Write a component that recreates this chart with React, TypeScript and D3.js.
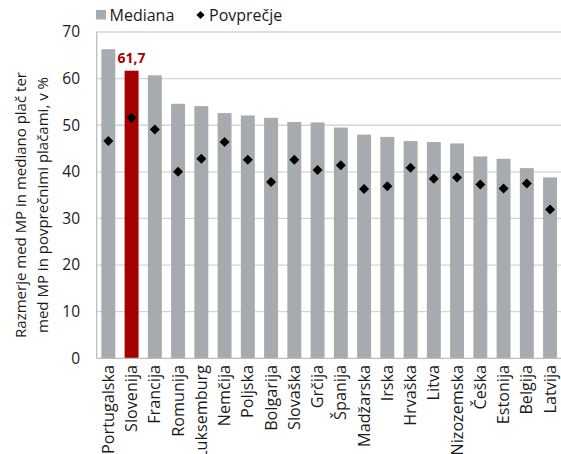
import React from "react";
import * as d3 from "d3";

const categories = ["Portugalska","Slovenija","Francija","Romunija","Luksemburg","Nemčija","Poljska","Bolgarija","Slovaška","Grčija","Španija","Madžarska","Irska","Hrvaška","Litva","Nizozemska","Češka","Estonija","Belgija","Latvija"];
const mediana = [66.3,61.7,60.7,54.6,54.1,52.6,52.1,51.6,50.7,50.6,49.5,48.0,47.5,46.6,46.4,46.1,43.3,42.8,40.8,38.8];
const povprecje = [46.6,51.6,49.1,40.0,42.8,46.4,42.6,37.8,42.6,40.4,41.4,36.3,36.9,40.9,38.5,38.8,37.3,36.4,37.5,31.9];
const yTicks = [0,10,20,30,40,50,60,70];
const highlight = "Slovenija";
const highlightLabel = "61,7";

const W = 561, H = 454;
const FONT = "'Open Sans', 'DejaVu Sans', sans-serif";
const GRAY = "#a6abb0";
const RED = "#a50000";

export default function App() {
  const x = d3.scaleBand<string>().domain(categories).range([96.7, 561.7]).paddingInner(0.4).paddingOuter(0.2);
  const y = d3.scaleLinear().domain([0, 70]).range([358.3, 32]);
  const diamond = d3.symbol().type(d3.symbolSquare).size(50);
  const diamondLegend = d3.symbol().type(d3.symbolSquare).size(34);
  const x0 = 96.7, x1 = 561.7;
  return (
    <svg width={W} height={H} style={{ position: "fixed", left: 0, top: 0, background: "#fff" }} fontFamily={FONT}>
      {yTicks.map(t => (
        <g key={t}>
          {t > 0 && <line x1={x0} x2={x1} y1={y(t)} y2={y(t)} stroke="#d4d4d4" strokeWidth={1.3} />}
          <text x={80} y={y(t)} dy="0.35em" textAnchor="end" fontSize={15.5} fill="#1a1a1a">{t}</text>
        </g>
      ))}
      {categories.map((c, i) => (
        <rect key={c} x={x(c)} y={y(mediana[i])} width={x.bandwidth()} height={y(0) - y(mediana[i])} fill={c === highlight ? RED : GRAY} />
      ))}
      <line x1={x0} x2={x0} y1={y(70)} y2={y(0)} stroke="#bdbdbd" strokeWidth={1.3} />
      <line x1={x0} x2={x1} y1={y(0)} y2={y(0)} stroke="#bdbdbd" strokeWidth={1.3} />
      {categories.map((c, i) => (
        <path key={c + "d"} d={diamond() as string} transform={`translate(${x(c)! + x.bandwidth() / 2},${y(povprecje[i])}) rotate(45)`} fill="#000" />
      ))}
      {categories.map((c, i) => c === highlight ? (
        <text key={c + "l"} x={x(c)! + x.bandwidth() / 2} y={y(mediana[i]) - 8} textAnchor="middle" fontSize={14} fontWeight="bold" fill={RED}>{highlightLabel}</text>
      ) : null)}
      {categories.map(c => (
        <text key={c + "t"} transform={`translate(${x(c)! + x.bandwidth() / 2},365) rotate(-90)`} dy="0.35em" textAnchor="end" fontSize={16.2} fill="#1a1a1a">{c}</text>
      ))}
      <g transform="translate(26,205) rotate(-90)">
        <text textAnchor="middle" fontSize={15} fill="#1a1a1a">Razmerje med MP in mediano plač ter</text>
        <text y={21.5} textAnchor="middle" fontSize={15} fill="#1a1a1a">med MP in povprečnimi plačami, v %</text>
      </g>
      <rect x={96} y={10} width={10} height={9.5} fill={GRAY} />
      <text x={109.5} y={20.5} fontSize={16} fill="#1a1a1a">Mediana</text>
      <path d={diamondLegend() as string} transform="translate(200.5,15) rotate(45)" fill="#000" />
      <text x={209} y={20.5} fontSize={16} fill="#1a1a1a">Povprečje</text>
    </svg>
  );
}
